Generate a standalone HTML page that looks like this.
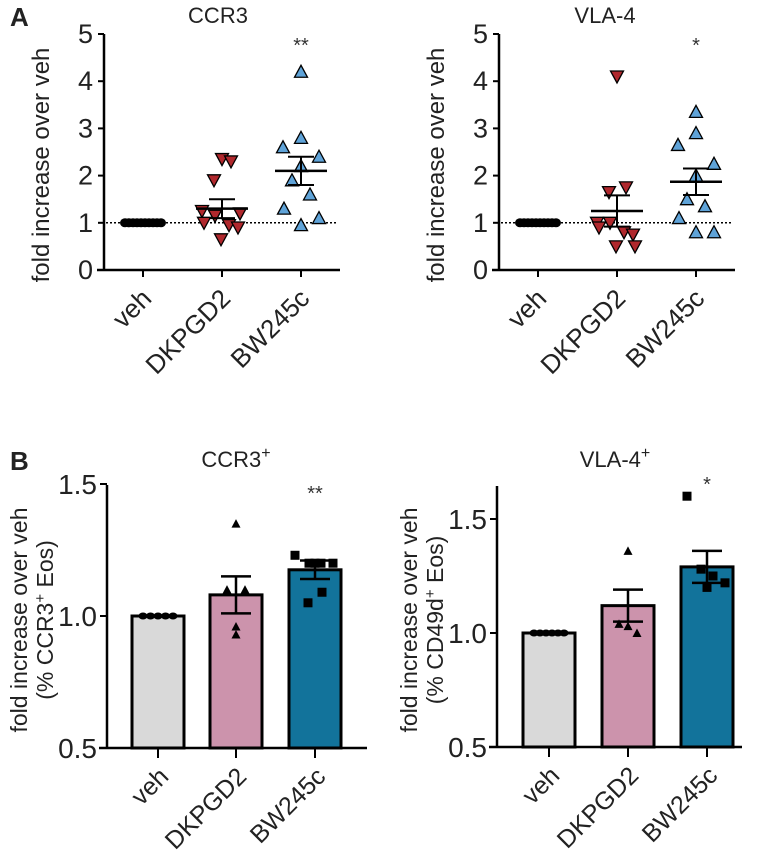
<!DOCTYPE html>
<html><head><meta charset="utf-8">
<style>
body{margin:0;background:#fff;overflow:hidden;}
svg{display:block;font-family:"Liberation Sans",Arial,sans-serif;}
</style></head>
<body>
<svg id="fig" width="760" height="860" viewBox="0 0 760 860"></svg>
<script>
const categories = ["veh","DKPGD2","BW245c"];
// Panel A (scatter)
const ccr3Veh = [1,1,1,1,1,1,1,1,1,1];
const ccr3Dk = [2.35,2.3,1.9,1.25,1.15,1.0,0.95,0.9,1.2,0.65];
const ccr3Bw = [4.2,2.8,2.6,2.4,2.2,1.9,1.6,1.3,1.1,0.95];
const ccr3Mean = [1.0,1.3,2.1];
const ccr3Sem = [0,0.2,0.3];
const vlaVeh = [1,1,1,1,1,1,1,1,1,1];
const vlaDk = [4.1,1.75,1.65,1.0,1.0,0.9,0.8,0.75,0.5,0.5];
const vlaBw = [3.35,2.9,2.65,2.25,2.0,1.5,1.35,1.1,0.8,0.8];
const vlaMean = [1.0,1.25,1.87];
const vlaSem = [0,0.33,0.28];
const aTicks = [0,1,2,3,4,5];
// Panel B (bars)
const bCcrMean = [1.0,1.08,1.175];
const bCcrSem = [0,0.07,0.035];
const bCcrVeh = [1,1,1,1,1];
const bCcrDk = [1.35,1.1,1.1,0.96,0.93];
const bCcrBw = [1.23,1.2,1.2,1.2,1.2,1.09,1.05];
const bVlaMean = [1.0,1.12,1.29];
const bVlaSem = [0,0.07,0.07];
const bVlaVeh = [1,1,1,1,1,1];
const bVlaDk = [1.36,1.04,1.0,1.03];
const bVlaBw = [1.6,1.28,1.25,1.22,1.2];
const bCcrTicks = [0.5,1.0,1.5];
const bVlaTicks = [0.5,1.0,1.5];

const NS="http://www.w3.org/2000/svg";
const svg=document.getElementById('fig');
function mk(tag,attrs,parent){const e=document.createElementNS(NS,tag);for(const k in attrs)e.setAttribute(k,attrs[k]);(parent||svg).appendChild(e);return e;}
function txt(s,attrs,parent){const e=mk('text',attrs,parent);e.textContent=s;return e;}

function scatterPanel(o){
  const g=mk('g',{});
  
  
  const y=v=>o.y0+(o.y1-o.y0)*(v-0)/5;
  const dl=mk('line',{x1:o.ax+2,x2:o.axEnd-2,y1:y(1),y2:y(1),stroke:'#000','stroke-width':1.5,'stroke-dasharray':'2,2'},g);
  
  
  const ya=mk('line',{x1:o.ax,x2:o.ax,y1:o.y1,y2:o.y0+1,stroke:'#000','stroke-width':2.5},g);
  
  
  const xa=mk('line',{x1:o.ax-7,x2:o.axEnd,y1:o.y0,y2:o.y0,stroke:'#000','stroke-width':2.5},g);
  
  
  aTicks.forEach(t=>{
    mk('line',{x1:o.ax-6,x2:o.ax,y1:y(t),y2:y(t),stroke:'#000','stroke-width':2},g);
    const tl=txt(String(t),{x:o.ax-11,y:y(t)+9,'font-size':27,'text-anchor':'end',fill:'#222'},g);
    
    
  });
  categories.forEach((c,i)=>{
    const cx=o.cx[i];
    mk('line',{x1:cx,x2:cx,y1:o.y0,y2:o.y0+7,stroke:'#000','stroke-width':2},g);
    const l=txt(c,{x:0,y:0,'font-size':26,'text-anchor':'end',fill:'#222',transform:`translate(${cx+10},${o.y0+30}) rotate(-45)`},g);
    
    
  });
  const t=txt(o.title,{x:o.titleX,y:23,'font-size':22,'text-anchor':'middle',fill:'#222'},g);
  
  
  const yl=txt('fold increase over veh',{x:0,y:0,'font-size':24,'text-anchor':'middle',fill:'#222',transform:`translate(${o.ax-55},${(o.y0+o.y1)/2+13}) rotate(-90)`},g);
  
  
  o.veh.forEach((v,j)=>{
    const px=o.cx[0]-18+j*4;
    const c=mk('ellipse',{cx:px,cy:y(v),rx:5,ry:4.5,fill:'#000'},g);
    
    
  });
  const offsDk=[0,9,-8,-20,-7,-18,7,16,18,-1];
  o.dk.forEach((v,j)=>{
    const px=o.cx[1]+offsDk[j%offsDk.length], py=y(v);
    const p=mk('polygon',{points:`${px-6.5},${py-5.5} ${px+6.5},${py-5.5} ${px},${py+6.5}`,fill:'#b0282d',stroke:'#000','stroke-width':1.3},g);
    
    
  });
  const offsBw=[0,0,-18,18,0,-9,9,-17,18,0];
  o.bw.forEach((v,j)=>{
    const px=o.cx[2]+offsBw[j%offsBw.length], py=y(v);
    const p=mk('polygon',{points:`${px-6.5},${py+5.5} ${px+6.5},${py+5.5} ${px},${py-6.5}`,fill:'#5fa3d8',stroke:'#000','stroke-width':1.3},g);
    
    
  });
  [1,2].forEach(i=>{
    const cx=o.cx[i],m=o.mean[i],s=o.sem[i];
    const eb=mk('g',{},g);
    
    
    mk('line',{x1:cx-26,x2:cx+26,y1:y(m),y2:y(m),stroke:'#000','stroke-width':2.5},eb);
    mk('line',{x1:cx,x2:cx,y1:y(m+s),y2:y(m-s),stroke:'#000','stroke-width':2},eb);
    mk('line',{x1:cx-13,x2:cx+13,y1:y(m+s),y2:y(m+s),stroke:'#000','stroke-width':2},eb);
    mk('line',{x1:cx-13,x2:cx+13,y1:y(m-s),y2:y(m-s),stroke:'#000','stroke-width':2},eb);
  });
  const st=txt(o.star,{x:o.cx[2],y:52,'font-size':20,'text-anchor':'middle',fill:'#333'},g);
  
  
}

function barPanel(o){
  const g=mk('g',{});
  
  
  const y=v=>o.y0-(v-0.5)*o.k;
  const fills=['#d9d9d9','#cc93ac','#12739b'];
  categories.forEach((c,i)=>{
    const cx=o.cx[i];
    const b=mk('rect',{x:cx-26,y:y(o.mean[i]),width:52,height:o.y0-y(o.mean[i]),fill:fills[i],stroke:'#000','stroke-width':3},g);
    
    
  });
  const pts=[o.veh,o.dk,o.bw];
  const offs=[[-12,-6,0,6,12,18],[0,-9,9,0,0],[-20,-6,6,18,0,7,-7]];
  pts.forEach((arr,i)=>{
    arr.forEach((v,j)=>{
      const px=o.cx[i]+(i==0? -15+j*(30/(arr.length-1)) : offs[i][j%offs[i].length]);
      const py=y(v);
      let p;
      if(i==0) p=mk('ellipse',{cx:px,cy:py,rx:4.5,ry:3.5,fill:'#000'},g);
      else if(i==1) p=mk('polygon',{points:`${px-4.5},${py+4} ${px+4.5},${py+4} ${px},${py-4.5}`,fill:'#000'},g);
      else p=mk('rect',{x:px-4.5,y:py-4.5,width:9,height:9,fill:'#000'},g);
      
      
    });
  });
  [1,2].forEach(i=>{
    const cx=o.cx[i],m=o.mean[i],s=o.sem[i];
    const eb=mk('g',{},g);
    
    
    mk('line',{x1:cx,x2:cx,y1:y(m+s),y2:y(m-s),stroke:'#000','stroke-width':2.5},eb);
    mk('line',{x1:cx-15,x2:cx+15,y1:y(m+s),y2:y(m+s),stroke:'#000','stroke-width':2.5},eb);
    mk('line',{x1:cx-15,x2:cx+15,y1:y(m-s),y2:y(m-s),stroke:'#000','stroke-width':2.5},eb);
  });
  const ya=mk('line',{x1:o.ax,x2:o.ax,y1:o.yTop,y2:o.y0+1,stroke:'#000','stroke-width':2.5},g);
  
  
  const xa=mk('line',{x1:o.ax-8,x2:o.axEnd,y1:o.y0,y2:o.y0,stroke:'#000','stroke-width':2.5},g);
  
  
  o.ticks.forEach(t=>{
    mk('line',{x1:o.ax-7,x2:o.ax,y1:y(t),y2:y(t),stroke:'#000','stroke-width':2},g);
    const tl=txt(t.toFixed(1),{x:o.ax-10,y:y(t)+10,'font-size':28,'text-anchor':'end',fill:'#222'},g);
    
    
  });
  categories.forEach((c,i)=>{
    const cx=o.cx[i];
    mk('line',{x1:cx,x2:cx,y1:o.y0,y2:o.y0+10,stroke:'#000','stroke-width':2},g);
    const l=txt(c,{x:0,y:0,'font-size':25,'text-anchor':'end',fill:'#222',transform:`translate(${cx+12},${o.y0+30}) rotate(-45)`},g);
    
    
  });
  const t=mk('text',{x:o.titleX,y:467,'font-size':22,'text-anchor':'middle',fill:'#222'},g);
  t.innerHTML=o.title+'<tspan dy="-9" font-size="16">+</tspan>';
  
  
  const yl=mk('text',{x:0,y:0,'font-size':23,'text-anchor':'middle',fill:'#222',transform:`translate(${o.ax-80},${o.yMid}) rotate(-90)`},g);
  yl.innerHTML=`<tspan x="0" dy="0">fold increase over veh</tspan><tspan x="0" dy="26">(% ${o.marker}</tspan><tspan dy="-8" font-size="15">+</tspan><tspan dy="8"> Eos)</tspan>`;
  
  
  const st=txt(o.star,{x:o.cx[2],y:o.starY,'font-size':20,'text-anchor':'middle',fill:'#333'},g);
  
  
}

scatterPanel({name:'panel-a-ccr3',ax:104,axEnd:340,y0:270,y1:34,cx:[143,222,301],veh:ccr3Veh,dk:ccr3Dk,bw:ccr3Bw,mean:ccr3Mean,sem:ccr3Sem,title:'CCR3',titleX:218,star:'**'});
scatterPanel({name:'panel-a-vla4',ax:499,axEnd:735,y0:270,y1:34,cx:[538,617,696],veh:vlaVeh,dk:vlaDk,bw:vlaBw,mean:vlaMean,sem:vlaSem,title:'VLA-4',titleX:605,star:'*'});
barPanel({name:'panel-b-ccr3',ax:107,axEnd:367,y0:748,k:264,yTop:485,cx:[158,236,315],mean:bCcrMean,sem:bCcrSem,veh:bCcrVeh,dk:bCcrDk,bw:bCcrBw,ticks:bCcrTicks,title:'CCR3',titleX:236,marker:'CCR3',yMid:620,star:'**',starY:500});
barPanel({name:'panel-b-vla4',ax:497,axEnd:742,y0:747,k:228,yTop:486,cx:[549,628,707],mean:bVlaMean,sem:bVlaSem,veh:bVlaVeh,dk:bVlaDk,bw:bVlaBw,ticks:bVlaTicks,title:'VLA-4',titleX:615,marker:'CD49d',yMid:620,star:'*',starY:491});

const la=txt('A',{x:10,y:26,'font-size':26,'font-weight':'bold',fill:'#222'});


const lb=txt('B',{x:10,y:470,'font-size':26,'font-weight':'bold',fill:'#222'});


</script>
</body></html>
